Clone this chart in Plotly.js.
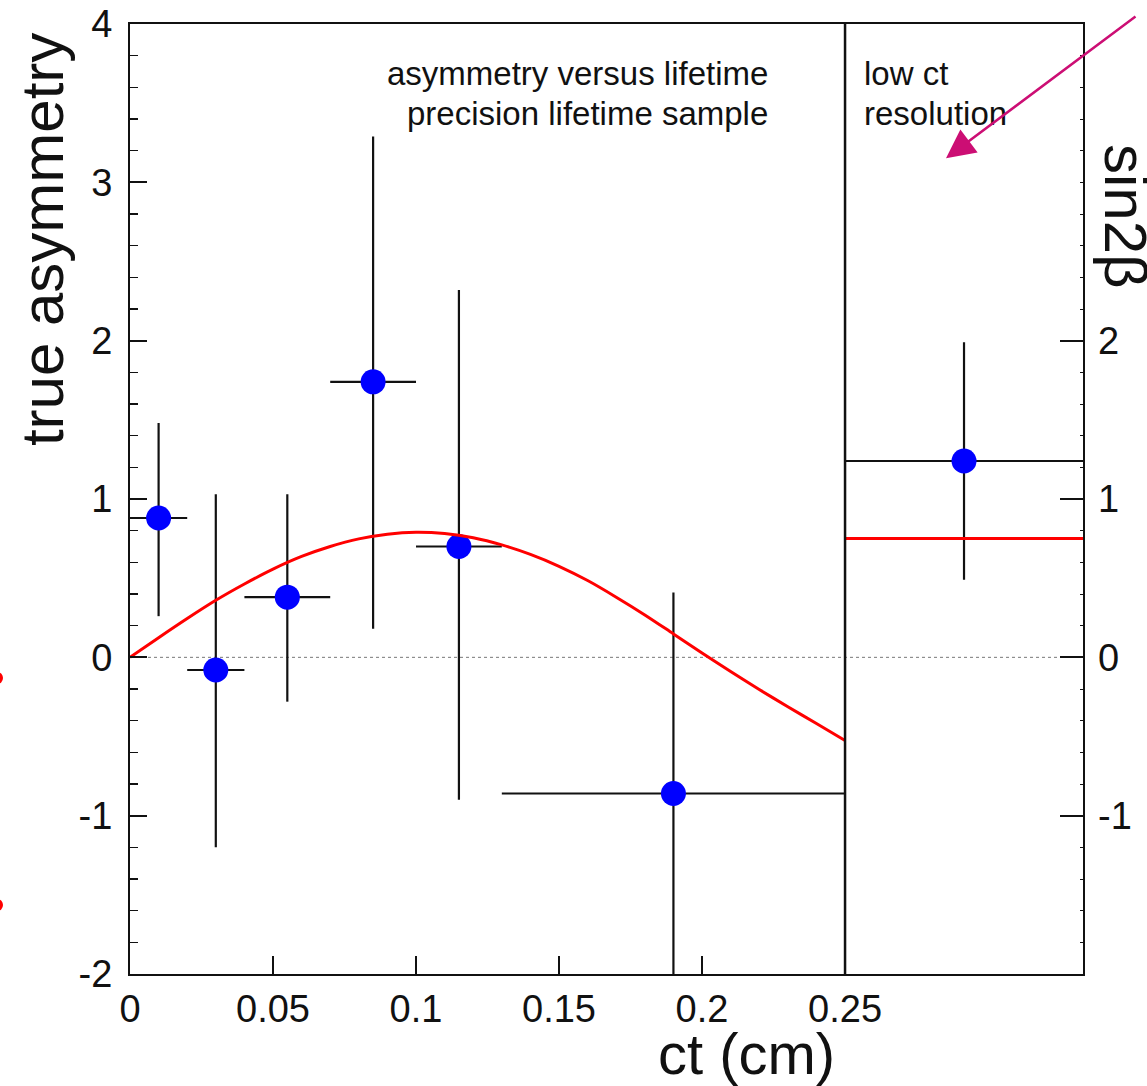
<!DOCTYPE html>
<html>
<head>
<meta charset="utf-8">
<script src="https://cdn.plot.ly/plotly-3.0.1.min.js"></script>
<style>html,body{margin:0;padding:0;background:#fff;}#chart{width:1147px;height:1086px;}</style>
</head>
<body>
<div id="chart"></div>
<script>
// measured points: ct (cm) and true asymmetry
const ct        = [0.01, 0.03, 0.055, 0.085, 0.115, 0.19, 0.2916];
const asym      = [0.88, -0.08, 0.38, 1.74, 0.70, -0.86, 1.24];
const errYPlus  = [0.60, 1.11, 0.65, 1.55, 1.62, 1.27, 0.75];
const errYMinus = [0.62, 1.12, 0.66, 1.56, 1.60, 1.27, 0.75];
const errXPlus  = [0.01, 0.01, 0.015, 0.015, 0.015, 0.06, 0.0416];
const errXMinus = [0.01, 0.01, 0.015, 0.015, 0.015, 0.06, 0.0416];

// fitted curve
const fitCt   = [0, 0.01, 0.02, 0.03, 0.04, 0.05, 0.06, 0.07, 0.08, 0.09, 0.10, 0.11, 0.12, 0.13,
                 0.14, 0.15, 0.16, 0.17, 0.18, 0.19, 0.20, 0.21, 0.22, 0.23, 0.24, 0.25];
const fitAsym = [0, 0.124, 0.245, 0.36, 0.463, 0.557, 0.637, 0.70, 0.748, 0.778, 0.79, 0.782, 0.755, 0.71,
                 0.65, 0.575, 0.485, 0.38, 0.268, 0.148, 0.028, -0.09, -0.203, -0.312, -0.418, -0.525];

// low ct resolution panel: sin2beta level
const lowCt    = [0.25, 0.3332];
const sin2beta = [0.75, 0.75];

const xTickVals = [0, 0.05, 0.1, 0.15, 0.2, 0.25];
const xTickText = ['0', '0.05', '0.1', '0.15', '0.2', '0.25'];
const yTickVals = [-2, -1, 0, 1, 2, 3, 4];
const yTickText = ['-2', '-1', '0', '1', '2', '3', '4'];
const rightTickVals = [-1, 0, 1, 2];
const rightTickText = ['-1', '0', '1', '2'];

const FONT = 'Liberation Sans, Arial, Helvetica, sans-serif';

const traces = [
  {
    x: ct, y: asym, type: 'scatter', mode: 'markers',
    marker: {color: '#0000ff', size: 25},
    error_y: {type: 'data', array: errYPlus, arrayminus: errYMinus, symmetric: false,
              color: '#111', thickness: 2.2, width: 0},
    error_x: {type: 'data', array: errXPlus, arrayminus: errXMinus, symmetric: false,
              color: '#111', thickness: 2.2, width: 0},
    showlegend: false, cliponaxis: true
  },
  {
    x: fitCt, y: fitAsym, type: 'scatter', mode: 'lines',
    line: {color: '#ff0000', width: 3, shape: 'spline', smoothing: 0.8},
    showlegend: false
  },
  {
    x: lowCt, y: sin2beta, type: 'scatter', mode: 'lines', line: {color: '#ff0000', width: 3},
    yaxis: 'y2', showlegend: false
  }
];

const layout = {
  width: 1147, height: 1086, autosize: false,
  margin: {l: 130, r: 64, t: 24, b: 112},
  paper_bgcolor: '#fff', plot_bgcolor: '#fff',
  font: {family: FONT, color: '#111'},
  xaxis: {
    range: [0, 0.3332], tickmode: 'array', tickvals: xTickVals, ticktext: xTickText,
    ticks: 'inside', ticklen: 18, tickwidth: 2, tickcolor: '#111',
    showline: true, linewidth: 2, linecolor: '#111', mirror: true,
    showgrid: false, zeroline: false,
    tickfont: {size: 38, family: FONT, color: '#111'}
  },
  yaxis: {
    range: [-2, 4], tickmode: 'array', tickvals: yTickVals, ticktext: yTickText,
    ticks: 'inside', ticklen: 17, tickwidth: 2, tickcolor: '#111',
    minor: {tickmode: 'linear', tick0: 0, dtick: 0.2, ticks: 'inside', ticklen: 8, tickwidth: 1.5,
            tickcolor: '#111', showgrid: false},
    showline: true, linewidth: 2, linecolor: '#111', mirror: true,
    showgrid: false, zeroline: false, ticklabelstandoff: 8,
    tickfont: {size: 38, family: FONT, color: '#111'}
  },
  yaxis2: {
    range: [-2, 4], overlaying: 'y', side: 'right', tickmode: 'array',
    tickvals: rightTickVals, ticktext: rightTickText,
    ticks: 'inside', ticklen: 23, tickwidth: 2, tickcolor: '#111',
    minor: {tickmode: 'linear', tick0: 0, dtick: 0.2, ticks: 'inside', ticklen: 3, tickwidth: 1,
            tickcolor: '#111', showgrid: false},
    showline: false, showgrid: false, zeroline: false, ticklabelstandoff: 14,
    tickfont: {size: 38, family: FONT, color: '#111'}
  },
  shapes: [
    {type: 'line', xref: 'paper', yref: 'y', x0: 0, x1: 1, y0: 0, y1: 0,
     line: {color: '#777', width: 1, dash: 'dot'}, layer: 'below'},
    {type: 'line', xref: 'x', yref: 'paper', x0: 0.25, x1: 0.25, y0: 0, y1: 1,
     line: {color: '#111', width: 2.5}},
    {type: 'circle', xref: 'paper', yref: 'paper',
     x0: (-8 - 130) / 953, x1: (3 - 130) / 953, y0: (974 - 684) / 950, y1: (974 - 672) / 950,
     fillcolor: '#ff0000', line: {width: 0}},
    {type: 'circle', xref: 'paper', yref: 'paper',
     x0: (-8 - 130) / 953, x1: (3 - 130) / 953, y0: (974 - 911) / 950, y1: (974 - 899) / 950,
     fillcolor: '#ff0000', line: {width: 0}}
  ],
  annotations: [
    {text: 'asymmetry versus lifetime', xref: 'paper', yref: 'paper', x: 0.6716, y: 0.9484,
     xanchor: 'right', yanchor: 'middle', showarrow: false, font: {size: 33, family: FONT, color: '#111'}},
    {text: 'precision lifetime sample', xref: 'paper', yref: 'paper', x: 0.6716, y: 0.9063,
     xanchor: 'right', yanchor: 'middle', showarrow: false, font: {size: 33, family: FONT, color: '#111'}},
    {text: 'low ct', xref: 'paper', yref: 'paper', x: 0.7681, y: 0.9484,
     xanchor: 'left', yanchor: 'middle', showarrow: false, font: {size: 33, family: FONT, color: '#111'}},
    {text: 'resolution', xref: 'paper', yref: 'paper', x: 0.7681, y: 0.9063,
     xanchor: 'left', yanchor: 'middle', showarrow: false, font: {size: 33, family: FONT, color: '#111'}},
    {text: 'true asymmetry', xref: 'paper', yref: 'paper', x: -0.0923, y: 0.7726,
     xanchor: 'center', yanchor: 'middle', textangle: -90, showarrow: false,
     font: {size: 60, family: FONT, color: '#111'}},
    {text: 'ct (cm)', xref: 'paper', yref: 'paper', x: 0.6474, y: -0.0835,
     xanchor: 'center', yanchor: 'middle', showarrow: false, borderpad: 0,
     font: {size: 58, family: FONT, color: '#111'}},
    {text: 'sin2β', xref: 'paper', yref: 'paper', x: 1.0441, y: 0.7979,
     xanchor: 'center', yanchor: 'middle', textangle: 90, showarrow: false,
     font: {size: 60, family: FONT, color: '#111'}},
    {text: '', xref: 'x', yref: 'y', x: 0.2853, y: 3.152, ax: 191, ay: -143,
     showarrow: true, arrowhead: 2, arrowsize: 2.3, arrowwidth: 2.5, arrowcolor: '#cc0e74', standoff: 0}
  ]
};

Plotly.newPlot('chart', traces, layout, {displayModeBar: false, staticPlot: true});
</script>
</body>
</html>
